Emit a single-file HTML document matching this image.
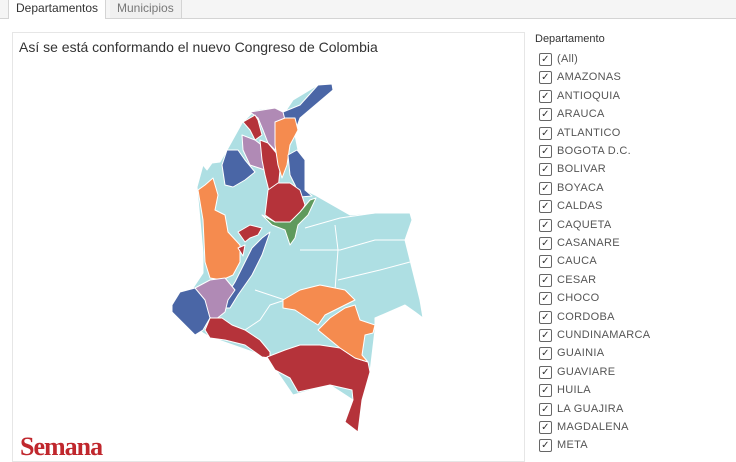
<!DOCTYPE html>
<html><head><meta charset="utf-8"><style>
body{margin:0;width:736px;height:454px;overflow:hidden;background:#fff;font-family:"Liberation Sans",sans-serif;position:relative}
.tabbar{position:absolute;left:0;top:0;width:736px;height:18px;border-bottom:1px solid #d4d4d4;background:#f5f5f5}
.tab{position:absolute;top:0;height:18px;font-size:12px;line-height:17px;padding:0 7px;box-sizing:border-box;border-right:1px solid #d4d4d4}
.panel{position:absolute;left:12px;top:32px;width:513px;height:430px;border:1px solid #e6e6e6;box-sizing:border-box}
.title{position:absolute;left:19px;top:39px;font-size:14px;color:#333}
.leg{position:absolute;left:535px;top:33px;font-size:11px;color:#333}
.row{position:absolute;left:539px;height:14px;font-size:11px;color:#555;letter-spacing:.3px}
.cb{position:absolute;left:0;top:0;width:11px;height:11px;border:1px solid #666;border-radius:2px;font-size:10px;line-height:11px;text-align:center;color:#333}
.row span{position:absolute;left:18px;top:0;white-space:nowrap}
</style></head><body>
<div class="tabbar">
<div class="tab" style="left:8px;background:#fff;color:#333;border-left:1px solid #d4d4d4;height:19px">Departamentos</div>
<div class="tab" style="left:110px;color:#777;background:#f0f0f0">Municipios</div>
</div>
<div class="panel"></div>
<div class="title">Así se está conformando el nuevo Congreso de Colombia</div>
<svg width="736" height="454" style="position:absolute;left:0;top:0">
<g stroke="#fff" stroke-width="1" stroke-linejoin="round">
<polygon fill="#aedfe3" points="242,123 255,110 270,108 285,112 293,100 318,85 330,84 333,88 325,97 300,118 295,135 300,160 305,190 315,195 350,215 375,213 410,213 412,220 405,240 410,260 420,300 423,318 415,312 405,305 375,318 375,330 370,372 362,400 358,432 345,422 353,400 330,385 293,395 267,357 210,337 203,333 172,308 180,297 193,288 203,273 203,253 200,220 197,187 203,165 207,170 212,163 220,162 227,150"/>
<polyline fill="none" points="305,228 340,218 375,213"/>
<polyline fill="none" points="335,225 338,250 335,290"/>
<polyline fill="none" points="300,250 340,250 375,240 405,240"/>
<polyline fill="none" points="338,280 380,270 410,262"/>
<polyline fill="none" points="255,290 285,300 270,305 260,320 245,330"/>
<polygon fill="#4a66a6" points="283,112 300,105 318,85 332,84 333,90 300,118 295,132 290,125 283,118"/>
<polygon fill="#b08ab5" points="250,112 275,108 283,112 285,120 278,140 275,150 268,143 263,130 258,118"/>
<polygon fill="#b5333a" points="243,122 255,115 258,120 262,135 255,140 250,130"/>
<polygon fill="#b08ab5" points="242,135 255,140 268,150 275,170 265,170 250,165 243,150"/>
<polygon fill="#b5333a" points="260,140 268,143 278,155 280,170 278,190 270,195 265,175 262,160"/>
<polygon fill="#f58b4f" points="275,122 285,118 295,118 298,130 290,145 287,165 282,178 278,165 275,145"/>
<polygon fill="#4a66a6" points="288,155 297,150 305,160 305,190 312,196 300,197 295,185 290,175"/>
<polygon fill="#4a66a6" points="227,150 238,150 245,160 255,172 245,180 233,187 225,185 222,165"/>
<polygon fill="#b5333a" points="268,190 278,183 290,183 300,190 305,205 298,218 285,225 275,222 265,215"/>
<polygon fill="#5f9a5d" points="262,215 275,222 290,222 300,212 310,200 316,198 308,215 298,225 295,238 290,245 285,230 272,225"/>
<polygon fill="#f58b4f" points="205,185 213,178 218,195 215,210 225,215 228,232 240,245 240,262 233,275 222,280 210,278 205,262 203,220 198,190"/>
<polygon fill="#b5333a" points="238,232 250,225 262,228 258,235 250,238 245,242"/>
<polygon fill="#b5333a" points="238,248 245,245 243,256"/>
<polygon fill="#4a66a6" points="262,238 270,232 262,255 252,275 238,295 230,308 222,308 225,298 235,282 245,262 252,248"/>
<polygon fill="#b08ab5" points="195,288 210,280 225,278 235,290 228,300 225,312 215,320 205,315 200,300"/>
<polygon fill="#4a66a6" points="172,305 180,292 195,288 205,300 210,318 203,330 195,335 185,325 172,312"/>
<polygon fill="#b5333a" points="210,318 222,318 232,325 245,330 260,340 270,352 270,358 262,357 245,345 225,340 210,338 205,330"/>
<polygon fill="#b5333a" points="267,357 285,350 300,345 320,345 340,348 355,358 368,362 370,372 362,400 358,432 345,422 353,400 352,390 330,385 298,392 290,378 275,370"/>
<polygon fill="#f58b4f" points="283,300 300,290 320,285 345,290 355,300 345,305 325,315 318,325 310,320 295,310 283,308"/>
<polygon fill="#f58b4f" points="318,330 330,318 345,308 355,305 360,320 375,325 373,333 365,335 362,355 368,362 355,358 340,348"/>
</g>
</svg>
<div style="position:absolute;left:20px;top:432px;font-family:'Liberation Serif',serif;font-weight:bold;font-size:26px;color:#c0272d;letter-spacing:-1px">Semana</div>
<div class="leg">Departamento</div>
<div id="legend"></div>
<script>
const items=["(All)","AMAZONAS","ANTIOQUIA","ARAUCA","ATLANTICO","BOGOTA D.C.","BOLIVAR","BOYACA","CALDAS","CAQUETA","CASANARE","CAUCA","CESAR","CHOCO","CORDOBA","CUNDINAMARCA","GUAINIA","GUAVIARE","HUILA","LA GUAJIRA","MAGDALENA","META"];
const lg=document.getElementById('legend');
items.forEach((t,i)=>{
const r=document.createElement('div');
r.className='row';
r.style.top=(53+i*18.4)+'px';


r.innerHTML='<div class="cb">✓</div><span>'+t+'</span>';
lg.appendChild(r);
});
</script>
</body></html>
